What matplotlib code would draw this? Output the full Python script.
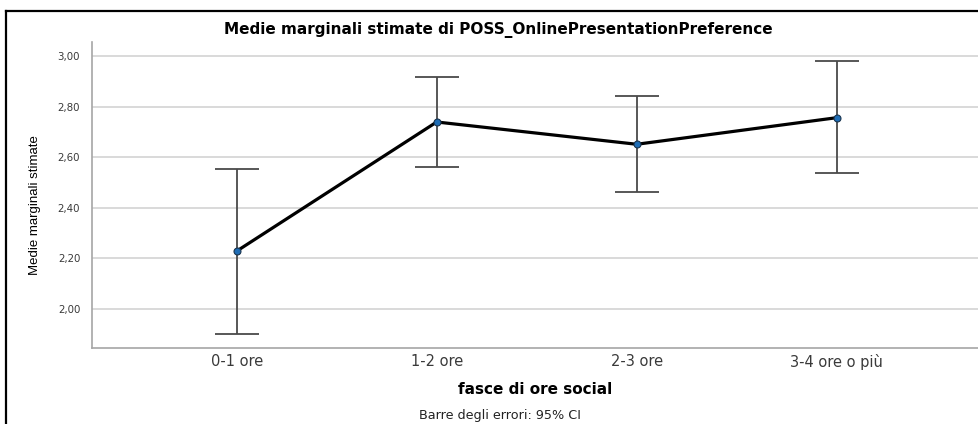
import matplotlib
matplotlib.use("Agg")
import matplotlib.pyplot as plt
from matplotlib.lines import Line2D
from matplotlib.ticker import FuncFormatter

categories = ["0-1 ore", "1-2 ore", "2-3 ore", "3-4 ore o più"]
means = [2.229, 2.739, 2.651, 2.756]
ci_low = [1.902, 2.562, 2.461, 2.536]
ci_high = [2.553, 2.918, 2.842, 2.979]
yticks = [2.00, 2.20, 2.40, 2.60, 2.80, 3.00]

W, H = 979, 424
fig = plt.figure(figsize=(W / 100, H / 100), dpi=100)
fig.patch.set_facecolor("white")

def fx(px):
    return px / W

def fy(py):
    return 1 - py / H

ax_left, ax_right, ax_top, ax_bottom = 92, 979, 42, 348.3
ax = fig.add_axes([fx(ax_left), fy(ax_bottom), fx(ax_right - ax_left), (ax_bottom - ax_top) / H])

x = list(range(len(categories)))
yerr = [[m - l for m, l in zip(means, ci_low)], [h - m for m, h in zip(means, ci_high)]]

ax.errorbar(x, means, yerr=yerr, fmt="none", ecolor="#4a4a4a", elinewidth=1.3,
            capsize=15.5, capthick=1.3, zorder=3)
ax.plot(x, means, color="black", linewidth=2.3, zorder=4)
ax.plot(x, means, linestyle="none", marker="o", markersize=5,
        markerfacecolor="#1f6db5", markeredgecolor="#1a3550", markeredgewidth=0.8, zorder=5)

ax.set_xlim(-0.7235, 3.7115)
ax.set_ylim(1.845, 3.055)
ax.set_xticks(x)
ax.set_xticklabels(categories, fontsize=10.5, color="#3a3a3a", family="DejaVu Sans")
ax.set_yticks(yticks)
ax.yaxis.set_major_formatter(FuncFormatter(lambda v, p: f"{v:.2f}".replace(".", ",")))
for lab in ax.get_yticklabels():
    lab.set_fontsize(7.4)
    lab.set_color("#3a3a3a")
    lab.set_family("DejaVu Sans")
ax.tick_params(axis="both", length=0)
ax.tick_params(axis="y", pad=8.5)
ax.tick_params(axis="x", pad=4)
ax.grid(axis="y", color="#d9d9d9", linewidth=1.4)
ax.set_axisbelow(True)
for side in ["top", "right"]:
    ax.spines[side].set_visible(False)
for side in ["left", "bottom"]:
    ax.spines[side].set_color("#a6a6a6")
    ax.spines[side].set_linewidth(1.2)

fig.text(fx(498), fy(30), "Medie marginali stimate di POSS_OnlinePresentationPreference",
         ha="center", va="center", fontsize=11, fontweight="bold", family="DejaVu Sans")
fig.text(fx(535), fy(390), "fasce di ore social", ha="center", va="center",
         fontsize=11, fontweight="bold", family="DejaVu Sans")
fig.text(fx(500), fy(415), "Barre degli errori: 95% CI", ha="center", va="center",
         fontsize=9.2, family="DejaVu Sans", color="#222222")
fig.text(fx(35), fy(205), "Medie marginali stimate", ha="center", va="center", rotation=90,
         fontsize=9.5, family=["Liberation Sans Narrow", "Liberation Sans"], color="#000000")

# outer frame
fig.add_artist(Line2D([fx(6), 1.0], [fy(11), fy(11)], color="black", linewidth=1.6))
fig.add_artist(Line2D([fx(6), fx(6)], [fy(11), 0.0], color="black", linewidth=1.6))

fig.savefig("out.png", dpi=100)
